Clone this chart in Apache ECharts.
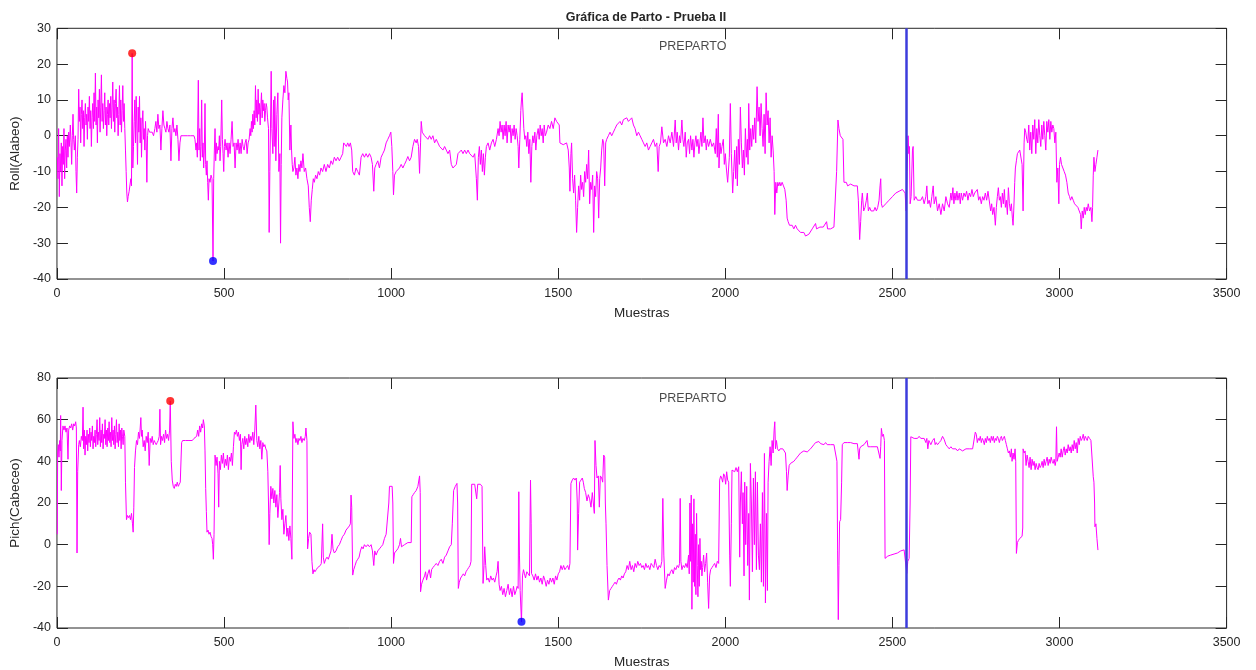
<!DOCTYPE html>
<html>
<head>
<meta charset="utf-8">
<script src="https://cdn.jsdelivr.net/npm/echarts@6/dist/echarts.min.js"></script>
<style>
html,body{margin:0;padding:0;background:#fff;}
#chart{width:1256px;height:670px;}
</style>
</head>
<body>
<div id="chart"></div>
<script>
// Axis ranges and tick steps
const sampleAxis = { min: 0, max: 3500, interval: 500 };
const rollAxis = { min: -40, max: 30, interval: 10 };
const pitchAxis = { min: -40, max: 80, interval: 20 };

// Sample where the pre-partum phase marker is drawn
const eventSample = 2542;
const noteText = 'PREPARTO';
const rollNote = [1800, 25];
const pitchNote = [1800, 70];

// Roll (Alabeo) readings: [sample, degrees]
const roll = [
[1,-6],[3,-12],[5,2],[7,-17],[9,-5],[11,-10],[13,-2],[15,-14],[17,-3],[19,-8],[21,2],[23,-12],[25,-4],[27,-1],[29,-9],[31,0],[33,-6],[35,1],[37,-3],[40,3],[42,-2],[44,-8],[46,0],[48,6],[50,-1],[52,-4],[55,0],[57,-10],[59,-16],[61,-6],[63,-1],
[65,13],[67,4],[69,8],[71,-2],[73,6],[75,10],[77,2],[79,7],[81,-3],[83,5],[85,9],[87,3],[89,6],[91,-1],[93,8],[95,4],[97,11],[99,2],[101,7],[103,-3],[105,5],[107,9],[109,2],[111,12],[113,4],[115,17.5],[117,3],[119,8],[121,-2],[123,10],[125,5],[127,13],[129,1],[131,8],[133,17],[135,4],[137,9],[139,2],[141,7],[143,12],[145,3],[147,8],[149,0],[151,6],[153,10],[155,3],[157,9],[159,5],[161,11],[163,2],[165,8],[167,15],[169,4],[171,10],[173,1],[175,9],[177,13],[179,5],[181,8],[183,0],[185,6],[187,14],[189,3],[191,10],[193,1],[195,7],[197,14],[199,4],[201,9],
[203,2],[205,-4],[207,-10],[209,-16],[211,-18.5],[213,-17],[216,-15.5],[219,-15],[221,-12],[223,-14],[225,23],[227,-9],[229,-3],[231,4],[233,10],[235,-2],[237,11],[239,3],[241,-8],[243,8],[245,1],[247,11],[249,-2],[251,5],[253,-6],[255,3],[257,7],[259,-1],[261,2],[263,-4],[265,4],[267,-2],[269,-13],[271,0],[273,2],[277,1],[281,0.5],[285,1],[289,0],[293,2],
[296,4],[299,1],[302,6],[305,2],[308,3],[311,-4],[314,2],[317,7],[320,3],[323,2],[326,1],[329,4],[332,2],[335,1],[338,3],[341,-7],[344,2],[347,5],[350,1],[353,2],[356,0],[359,3],[362,-1],[365,-7],[368,-2],[371,0],[375,0.5],[380,0],[385,0.5],[390,0],[395,0.3],[400,0],[405,0.5],[410,0],[413,-1],[416,-4],[418,-2],[420,-6],[423,15.5],[425,-4],[427,2],[429,-7],[431,-3],[433,10],[435,-6],[437,-2],[439,-9],[441,-4],[443,9],[445,-8],[447,-11],[449,-7],[451,-13],[453,-18],[455,-12],[458,-13],[461,-11],[464,-12],[467,-35],[469,-12],[471,-4],[473,2],[475,-7],[477,-2],[479,-5],[482,-3],[484,-4],[486,0],[488,-7],[490,-3],[493,10],[495,-1],[497,-5],[499,-10],[501,-3],[503,-1],[506,-4],[509,-2],[512,-6],[515,-2],[518,-5],[521,-1],[524,4],[527,-3],[530,-2],[533,-9],[536,-2],[539,-4],[542,-1],[545,-5],[548,-2],[551,-5],[554,-1],[557,-3],[560,-4],[563,-2],[566,-1],[569,-5],[572,-2],[575,-1],[578,2],[580,0],[582,4],[584,1],[586,6],[588,2],[590,7],[592,3],[594,14],[596,5],[598,10],[600,4],[602,13],[604,6],[606,9],[608,3],[610,8],[612,12],[614,5],[616,10],[618,7],[620,9],[622,4],[624,7],[626,9],[628,8],[630,5],[633,2],[635,-27],[637,-10],[639,3],[641,18],[643,2],[646,-5],[648,10],[650,-3],[652,11],[655,-7],[658,6],[661,12],[664,-10],[667,-5],[669,-30],[671,-8],[673,5],[676,10],[679,14],[682,12],[685,18],[688,16],[690,15],[692,10],[694,12],[697,-4],[700,3],[702,-4],[704,-8],[706,-10],[709,-9],[712,-6],[715,-11],[718,-9],[721,-12],[724,-8],[727,-10],[730,-7],[733,-9],[736,-5],[740,-10],[744,-9],[748,-12],[752,-14],[755,-20],[758,-24],[761,-18],[764,-15],[767,-12],[770,-13],[774,-11],[778,-12],[782,-10],[786,-11],[790,-9],[795,-10],[800,-8],[805,-10],[810,-8],[815,-9],[820,-7],[825,-8],[830,-6],[835,-7],[840,-6],[845,-7],[850,-6],[855,-5],[858,-2],[862,-2],[866,-3],[870,-2],[874,-3],[878,-2],[882,-4],
[885,-10],[890,-11],[895,-9],[900,-10],[905,-11],[910,-6],[915,-5],[920,-6],[925,-5],[930,-6],[935,-5],[940,-6],[944,-8],[948,-15.5],[951,-9],[955,-8],[960,-7],[965,-9],[970,-6],[975,-5],[980,-4],[985,-2],[990,-1],[995,0],[999,1],[1002,-3],[1005,-10],[1007,-16.5],[1010,-11],[1015,-10],[1020,-10],[1025,-9],[1030,-8],[1035,-9],[1040,-8],[1045,-7],[1050,-5.8],[1055,-7],[1060,-6],[1065,-3],[1070,-1],[1075,-2],[1078,-1],[1082,-3],[1085,-10.5],[1088,-2],[1090,4],[1093,1],[1097,1],[1100,0],[1105,0.5],[1110,-1],[1115,0],[1120,-1],[1125,0],[1130,-2],[1135,-1],[1140,-2],[1145,-3],[1150,-3],[1155,-4],[1160,-3],[1165,-4],[1170,-5],[1175,-4],[1180,-8],[1185,-9],[1190,-9],[1195,-8],[1200,-5],[1205,-5],[1210,-4],[1215,-5],[1220,-4],[1225,-5],[1230,-4],[1235,-5],[1240,-5],[1245,-6],[1250,-5],[1255,-12],[1258,-18],[1261,-6],[1264,-3],[1267,-8],[1270,-4],[1273,-10],[1276,-5],[1279,-11],[1282,-6],[1285,-3],[1290,-2],[1295,-4],[1300,-2],[1305,-1],[1310,-3],[1315,-1],[1320,2],[1323,0],[1326,4],[1329,1],[1332,3],[1335,-1],[1338,3],[1341,0],[1344,4],[1347,-2],[1350,3],[1353,1],[1356,3],[1359,-2],[1362,2],[1365,0],[1368,3],[1371,-1],[1374,2],[1377,0],[1380,-3],[1382,-9],[1385,-1],[1388,7],[1390,10],[1392,12],[1394,8],[1397,2],[1400,-1],[1403,0],[1406,-3],[1409,1],[1412,-5],[1415,-1],[1418,-13],[1421,-3],[1424,0],[1427,-2],[1430,1],[1433,-4],[1436,0],[1440,2],[1443,-1],[1446,3],[1449,0],[1452,2],[1455,-2],[1458,3],[1461,0],[1465,1],[1470,3],[1475,2],[1480,4],[1485,2],[1490,5],[1495,4],[1500,4],[1503,3],[1505,-2],[1510,-2],[1515,-2.5],[1520,-2],[1525,-2],[1530,-4],[1533,-9],[1535,-15.5],[1538,-5],[1540,-2],[1543,-12],[1546,-16],[1549,-11],[1552,-18],[1555,-27],[1558,-20],[1561,-14],[1564,-18],[1567,-11],[1570,-15],[1573,-13],[1576,-17],[1579,-10],[1582,-13],[1585,-8],[1588,-12],[1591,-4],[1594,-19],[1597,-13],[1600,-15],[1603,-11],[1606,-27],[1609,-14],[1612,-17],[1615,-10],[1618,-12],[1621,-23],[1624,-12],[1627,-9],[1630,-4],[1633,-1],[1636,-2],[1639,-14],[1642,-2],[1645,-1],[1650,0],[1655,1],[1660,0],[1665,1],[1670,2],[1675,3],[1680,3],[1685,4],[1690,3],[1695,4.5],[1700,4],[1705,5],[1710,4],[1715,4],[1720,5],[1725,3],[1730,2],[1735,0],[1740,1],[1745,0],[1750,-1],[1755,-2],[1760,-3],[1765,-2],[1770,-4],[1775,-3],[1780,-2],[1785,-1],[1790,-3],[1795,-2],[1799,-10],[1802,-3],[1806,-2],
[1810,2.5],[1815,-2],[1820,-1],[1825,-3],[1830,0],[1835,-2],[1840,1],[1845,-3],[1850,4.4],[1853,-2],[1856,1],[1860,-4],[1863,0],[1866,-2],[1870,4.4],[1873,-1],[1876,-3],[1880,1],[1883,-6],[1886,-2],[1890,-1],[1893,-5],[1896,0],[1900,-4],[1903,-1],[1906,-6],[1909,-2],[1912,0],[1915,-3],[1918,-1],[1921,-5],[1924,-2],[1927,1],[1930,-3],[1933,5],[1936,-2],[1940,0],[1943,-4],[1946,-1],[1950,-3],[1955,-1],[1960,-3],[1965,-2],[1970,-5],[1973,2],[1976,-6],[1979,6],[1981,-9],[1984,-2],[1987,-5],[1990,-3],[1994,-1],[1997,-8],[2000,-5],[2003,-9],[2007,-13],[2012,-6],[2015,9],[2018,-5],[2022,-16],[2025,-10],[2028,-4],[2031,-12],[2034,-3],[2036,-14],[2039,-1],[2042,-8],[2045,8],[2048,-2],[2051,-9],[2054,-4],[2057,-11],[2060,2],[2063,-6],[2066,-1],[2068,-8],[2070,9],[2073,-4],[2076,2],[2079,-3],[2082,3],[2085,-1],[2088,5],[2091,-2],[2095,13.7],[2098,4],[2101,8],[2104,0],[2107,9],[2110,2],[2113,-3],[2116,6],[2119,-5],[2122,12],[2125,3],[2128,7],[2131,-2],[2134,5],[2137,-6],[2140,0],[2143,-4],[2146,-10],[2148,-22],[2151,-13],[2154,-16],[2157,-13],[2160,-14],[2163,-13],[2166,-14],[2170,-13],[2174,-14],[2178,-15],[2182,-18],[2185,-23],[2188,-24],[2192,-25],[2196,-25.5],[2200,-25],[2205,-26],[2210,-25],[2215,-26],[2220,-26],[2225,-27],[2230,-27.5],[2235,-27],[2240,-28],[2245,-28.2],[2250,-27.5],[2255,-27],[2260,-26],[2265,-26.5],[2270,-24.5],[2273,-26],[2278,-26],[2283,-25.5],[2288,-26],[2293,-25.5],[2298,-26],[2303,-24],[2306,-26],[2310,-25.5],[2315,-26],[2320,-26],[2325,-25.5],[2330,-26],[2333,-10],[2337,4.4],[2340,2],[2344,0],[2348,0.5],[2352,-1],[2355,-13],[2358,-13.5],[2362,-13],[2366,-14],[2370,-14],[2375,-13.5],[2380,-14],[2385,-14],[2390,-13.5],[2395,-14],[2398,-18],[2402,-29],[2405,-24],[2408,-18],[2410,-16],[2414,-21],[2418,-20],[2422,-18],[2425,-16],[2428,-21],[2432,-20],[2436,-21],[2440,-20.5],[2444,-21],[2448,-20],[2452,-21],[2456,-20],[2460,-18],[2463,-14],[2465,-12],[2467,-19],[2470,-20],[2475,-20],[2480,-19],[2485,-19],[2490,-18],[2495,-18],[2500,-17],[2505,-17],[2510,-16],[2515,-16],[2520,-15.5],[2525,-15],[2530,-15],[2535,-15],[2538,-16],[2541,-21],[2544,-10],[2547,0],[2549,-5],[2551,-3],[2553,-19],[2556,-17],[2560,-4],[2562,-3],[2565,-18],
[2570,-17],[2575,-18],[2580,-17.5],[2585,-18],[2590,-17],[2595,-19],[2600,-17],[2603,-14],[2606,-19],[2610,-18],[2614,-20],[2618,-17],[2622,-14],[2625,-19],[2630,-17],[2635,-21],[2640,-19],[2645,-22],[2650,-19],[2655,-21],[2660,-17],[2665,-19],[2670,-20],[2675,-16],[2678,-18],[2681,-14.5],[2684,-19],[2687,-16],[2690,-18],[2693,-15.5],[2696,-18],[2700,-16],[2703,-19],[2706,-16],[2710,-18],[2714,-16],[2718,-17],[2722,-15.5],[2726,-18],[2730,-16],[2734,-17],[2738,-15],[2742,-17],[2746,-16],[2750,-16.5],[2754,-15],[2758,-18],[2762,-17],[2766,-19],[2770,-17],[2774,-18],[2778,-16],[2782,-18],[2786,-15.5],[2790,-16],[2794,-21],[2797,-19],[2800,-22],[2804,-20],[2808,-25],[2811,-20],[2814,-17],[2817,-14.5],[2820,-18],[2823,-17],[2826,-20],[2829,-16],[2832,-19],[2835,-15],[2838,-20],[2841,-18],[2844,-22],[2847,-14.5],[2850,-19],[2853,-21],[2856,-19],[2859,-23],[2861,-25],[2863,-21],[2866,-13],[2868,-9],[2871,-7],[2874,-5],[2877,-5],[2881,-4],[2885,-4],[2888,-8],[2891,-21],[2894,-2],[2896,2],[2899,1],[2902,-1],[2905,-2],[2908,3],[2911,-4],[2914,1],[2917,-5],[2920,3],[2923,-1],[2926,4.5],[2929,-5],[2932,2],[2935,-2],[2938,4.5],[2941,0],[2944,-3],[2947,3],[2950,-1],[2953,4],[2956,0],[2959,-4],[2962,4],[2965,1],[2968,4.5],[2971,-1],[2974,4],[2977,1],[2980,3],[2983,2],[2986,-2],[2989,1],[2992,-13],[2995,-9],[2998,-19],[3000,-8],[3003,-6],[3006,-8],[3010,-9],[3014,-10],[3018,-11],[3022,-13],[3026,-16],[3030,-17],[3033,-18],[3037,-17],[3041,-18],[3045,-19],[3050,-19.5],[3055,-20],[3060,-20],[3063,-22],[3065,-26],[3068,-21],[3071,-23],[3074,-20],[3077,-22],[3080,-20],[3083,-21],[3086,-19],[3090,-21],[3094,-20],[3097,-24],[3099,-20],[3101,-11],[3103,-6],[3106,-10],[3109,-8],[3112,-6],[3115,-4]
];

// Pitch (Cabeceo) readings: [sample, degrees]
const pitch = [
[1,5],[2,44],[4,48],[6,42],[8,50],[10,45],[11,62],[12,46],[13,26],[15,50],[18,57],[21,55],[24,57],[27,54],[30,56],[33,41],[35,55],[38,57],[41,56],[44,58],[47,55],[50,58],[53,57],[56,59],[58,56],[60,-4],[62,35],[65,48],[67,50],[70,47],[73,52],[76,50],[78,66],[80,46],[82,55],[84,43],[86,52],[88,48],[90,55],[92,45],[94,53],[96,49],[98,56],[100,47],[102,54],[104,50],[106,57],[108,46],[110,52],[112,49],[114,55],[116,47],[118,53],[120,60],[122,48],[124,54],[126,50],[128,61],[130,47],[132,55],[134,49],[136,58],[138,46],[140,53],[142,51],[144,60],[146,48],[148,55],[150,47],[152,56],[154,50],[156,59],[158,49],[160,54],[162,47],[164,61],[166,50],[168,55],[170,48],[172,57],[174,46],[176,53],[178,60],[180,49],[182,54],[184,47],[186,58],[188,50],[190,55],[192,46],[194,56],[196,52],[198,48],[200,55],[203,52],[205,30],[208,12],[211,14],[214,13],[217,14],[220,12],[223,15],[226,10],[228,6],[230,18],[232,37],[235,45],[238,50],[241,48],[244,54],[247,51],[249,56],[251,61],[253,52],[255,55],[258,47],[261,50],[264,45],[267,52],[270,49],[273,54],[276,38],[279,51],[282,49],[285,52],[288,48],[291,50],[294,49],[297,48],[300,49],[303,50],[306,52],[308,65],[310,48],[313,52],[316,50],[319,53],[322,49],[325,55],[328,51],[331,53],[334,50],[337,55],[339,69],[342,40],[345,31],[348,28],[351,27],[354,29],[357,28],[360,30],[363,28],[366,29],[369,30],[373,49],[376,50],[380,50],[385,50],[390,50.5],[395,50],[400,50.5],[405,50],[410,51],[415,51],[418,52],[421,55],[424,52],[427,57],[430,54],[433,58],[436,56],[438,60],[441,57],[443,45],[445,27],[447,16],[449,6],[452,7],[455,5],[458,6],[461,4],[464,3],[466,0],[468,-7],[470,5],[473,43],[476,38],[479,42],[482,34],[484,18],[486,40],[489,36],[492,43],[495,39],[498,44],[501,37],[504,41],[507,38],[510,43],[513,36],[516,42],[519,40],[522,44],[525,38],[528,47],[531,54],[534,53],[537,55],[540,52],[543,54],[546,50],[549,53],[551,36],[553,48],[556,51],[559,46],[562,52],[565,48],[568,51],[571,47],[574,53],[577,49],[580,52],[583,50],[586,54],[589,48],[592,55],[595,67],[598,50],[601,47],[604,52],[607,46],[610,50],[613,41],[616,49],[619,47],[622,48],[625,46],[628,45],[631,35],[633,20],[635,0],[637,15],[640,28],[643,22],[646,27],[649,20],[652,26],[655,18],[658,24],[661,13],[664,20],[666,25],[668,38],[670,22],[673,12],[676,17],[679,5],[682,10],[685,14],[688,4],[691,8],[694,2],[697,9],[700,3],[703,-7],[706,59],[709,51],[712,53],[715,49],[718,51],[721,48],[724,51],[727,50],[730,52],[733,49],[736,51],[740,50],[743,52],[745,56],[748,50],[750,-2],[753,3],[756,6],[760,5],[763,-8],[766,-14],[769,-12],[772,-13],[776,-12],[780,-11],[784,-11],[788,-10],[791,-9],[795,10],[797,-6],[800,-9],[804,-7],[808,-6],[812,-7],[816,-5],[820,-3],[823,5],[826,-2],[830,-4],[835,-3],[840,-1],[845,0],[850,2],[855,4],[860,5],[865,7],[870,8],[875,9],[878,10],[880,23.8],[882,18],[885,-14.6],[888,-12],[892,-10],[896,-8],[900,-7],[904,-6],[908,-3],[912,-1],[916,-2],[920,0],[925,-1],[930,0],[935,-1],[940,0],[944,-3],[948,-10],[951,-3],[955,-5],[960,-3],[965,-2],[970,-1],[975,0],[980,3],[985,5],[990,5],[993,20],[995,28],[998,28],[1003,28],[1005,20],[1007,-9],[1010,-4],[1015,-3],[1020,-2],[1025,0],[1028,3],[1031,-1],[1035,-1],[1040,0],[1045,0],[1050,1],[1055,1],[1060,1],[1062,23],[1066,24],[1070,25],[1075,26],[1080,28],[1085,33],[1087,25],[1088,-22.6],[1091,-19],[1095,-17],[1100,-15],[1103,-13],[1106,-17],[1110,-14],[1114,-12],[1118,-16],[1121,-12],[1125,-11],[1130,-10],[1135,-9],[1140,-10],[1145,-8],[1150,-7],[1155,-9],[1160,-6],[1165,-5],[1170,-3],[1175,-1],[1180,0],[1183,10],[1187,26],[1192,28],[1197,29.4],[1199,20],[1201,-21],[1204,-18],[1208,-16],[1212,-15],[1216,-14],[1220,-15],[1224,-13],[1228,-12],[1232,-11],[1236,-10],[1239,-8],[1241,29],[1245,29.5],[1250,29],[1254,29.5],[1256,22],[1259,29],[1263,29.5],[1267,29],[1272,28],[1275,-18.6],[1278,-10],[1280,-1],[1283,-10],[1286,-17],[1290,-16],[1294,-18],[1298,-15],[1302,-17],[1306,-16],[1310,-18],[1314,-15],[1317,-13],[1320,-8],[1323,-19],[1326,-22],[1330,-20],[1334,-24],[1338,-21],[1342,-25],[1346,-22],[1350,-19],[1354,-24],[1358,-21],[1362,-25],[1366,-20],[1370,-24],[1374,-22],[1377,-20],[1380,-21],[1382,25.4],[1384,-5],[1386,-22],[1390,-37],[1393,-15],[1396,-12],[1399,-14],[1402,-16],[1406,-13],[1410,-14],[1414,-15],[1417,31],[1419,10],[1420,-13.8],[1424,-15],[1428,-17],[1432,-14],[1436,-17],[1440,-15],[1444,-18],[1448,-16],[1452,-19],[1456,-15],[1460,-17],[1464,-20],[1468,-17],[1472,-19],[1476,-16],[1480,-18],[1484,-16],[1488,-19],[1492,-15],[1496,-17],[1500,-14],[1504,-13],[1508,-10],[1512,-12],[1516,-10],[1520,-12],[1524,-11],[1528,-10],[1532,-12],[1535,-9],[1538,29.4],[1542,31],[1546,32],[1550,31],[1554,32],[1557,20],[1558,-2.6],[1561,15],[1564,30],[1568,31],[1572,32],[1575,30],[1578,27],[1582,25],[1586,21],[1590,24],[1594,22],[1598,18],[1602,25],[1605,20],[1608,15],[1610,50],[1613,38],[1616,32],[1620,33],[1623,18],[1626,33],[1630,32],[1633,30],[1636,43],[1639,42],[1641,20],[1643,10],[1646,-10],[1650,-26.6],[1654,-22],[1658,-21],[1662,-20],[1666,-19],[1670,-18],[1674,-19],[1678,-17],[1682,-16],[1686,-17],[1690,-15],[1694,-16],[1698,-14],[1702,-13],[1706,-10],[1710,-12],[1714,-8],[1718,-12],[1722,-10],[1726,-13],[1730,-9],[1734,-11],[1738,-8],[1742,-10],[1746,-9],[1750,-11],[1754,-10],[1758,-12],[1762,-9],[1766,-11],[1770,-10],[1774,-12],[1778,-9],[1782,-10],[1786,-11],[1790,-7],[1794,-10],[1798,-12],[1802,-10],[1806,-11],[1810,-8],[1813,22.2],[1816,-5],[1820,-21],[1824,-17],[1828,-14],[1832,-15],[1836,-13],[1840,-12],[1844,-14],[1848,-11],[1852,-12],[1856,-10],[1860,-11],[1863,-9],[1865,22.2],[1867,-8],[1870,-12],[1874,-10],[1878,-11],[1882,-9],[1886,-11],[1890,-5],[1892,-14],[1894,20],[1896,-8],[1898,23.8],[1900,-31],[1902,10],[1904,-18],[1906,22],[1908,-20],[1910,5],[1912,-24],[1914,15],[1916,-10],[1918,-25],[1920,0],[1922,-20],[1924,3],[1926,-12],[1928,-8],[1930,-15],[1932,-11],[1935,-5],[1938,-13],[1941,-9],[1944,-4],[1947,-18],[1950,-30.6],[1953,-15],[1956,-12],[1960,-11],[1964,-10],[1968,-9],[1972,-11],[1976,-8],[1980,-9],[1983,31],[1986,33],[1989,32],[1992,30],[1995,34],[1998,33],[2001,29],[2004,35],[2007,31],[2010,30],[2013,-5],[2015,-20],[2018,10],[2020,35.8],[2024,36],[2028,35],[2032,37],[2036,35],[2040,37.4],[2043,-6],[2045,20],[2048,35],[2051,10],[2053,25],[2056,-15],[2058,30],[2061,0],[2064,28],[2067,-10],[2070,15],[2072,-26.6],[2075,39],[2078,20],[2081,-13],[2084,32],[2087,0],[2090,35],[2093,-12],[2096,30],[2099,-5],[2102,-12],[2105,10],[2108,-18],[2111,25],[2114,-20],[2117,43.8],[2120,-28],[2123,15],[2126,-22],[2128,30],[2131,40],[2134,47],[2137,38],[2140,50],[2143,44],[2146,55],[2148,59],[2150,46],[2153,50],[2156,46],[2160,45],[2164,46],[2168,45.5],[2172,46],[2176,45],[2180,44],[2183,35],[2185,26],[2188,33],[2191,38],[2195,39],[2200,39.5],[2205,40],[2210,41],[2215,42],[2220,43],[2225,44],[2230,44],[2235,45],[2240,45],[2245,44.5],[2250,45],[2255,46],[2260,45.5],[2265,48],[2270,49],[2275,49],[2280,49.5],[2285,48.5],[2290,49],[2295,48],[2300,49],[2305,48],[2310,48.5],[2315,48],[2320,48],[2325,48],[2330,48],[2334,40],[2336,-2.6],[2338,-36],[2340,-10],[2342,11],[2345,12],[2348,30],[2350,48],[2355,49],[2360,48.5],[2365,49],[2370,49.5],[2375,49],[2380,49],[2385,48.5],[2390,49],[2395,48.5],[2398,49],[2400,41],[2402,46],[2405,47],[2410,47],[2415,48],[2420,47.5],[2424,50],[2427,47],[2430,47],[2435,47],[2440,47],[2445,47],[2450,47],[2455,47],[2460,47],[2463,41.4],[2465,47],[2467,55.8],[2470,52],[2473,53],[2476,50],[2478,-6.6],[2482,-6],[2486,-5.5],[2490,-5.5],[2495,-5],[2500,-5],[2505,-4.5],[2510,-4],[2515,-4],[2520,-3.5],[2525,-3],[2530,-3],[2535,-2.5],[2540,-3],[2543,-13.8],[2546,-8],[2550,-6.6],[2553,20],[2555,51.8],[2560,52],[2565,51],[2570,51.5],[2575,51],[2580,52],[2585,51],[2590,50.5],[2595,51],[2600,49],[2603,51],[2606,46],[2609,50],[2612,49],[2615,48],[2620,50],[2625,51],[2628,48],[2631,49],[2635,48],[2640,49],[2645,50],[2650,52],[2655,50.5],[2660,48],[2665,47],[2670,46],[2675,47],[2680,46],[2685,46.5],[2690,46],[2695,45],[2700,46],[2705,46],[2710,45],[2715,44.5],[2720,46],[2725,46],[2730,46],[2735,46],[2740,46],[2745,46],[2748,54],[2751,53],[2754,49],[2757,51],[2760,50],[2763,52],[2766,49],[2769,51],[2772,50],[2775,48],[2778,51],[2781,49],[2784,52],[2787,50],[2790,51],[2793,49],[2796,52],[2799,50],[2802,52],[2805,49],[2808,51],[2811,50],[2814,52],[2817,51],[2820,49],[2823,51],[2826,52],[2829,50],[2832,51],[2835,52],[2838,50],[2841,48],[2844,46],[2847,44],[2850,45],[2853,42],[2856,46],[2858,40],[2861,44],[2864,41],[2867,46],[2869,40],[2871,-4.2],[2874,1],[2877,2],[2881,3],[2885,3],[2888,4],[2890,8],[2891,46],[2894,44],[2897,45],[2900,38],[2903,43],[2906,40],[2909,37],[2912,42],[2915,36],[2918,41],[2921,38],[2924,40],[2927,36],[2930,39],[2933,37],[2936,36],[2939,39],[2942,37],[2945,38],[2948,40],[2951,37],[2954,41],[2957,38],[2960,40],[2963,42],[2966,38],[2969,41],[2972,39],[2975,42],[2978,40],[2981,39],[2984,41],[2987,38],[2989,40],[2991,56.6],[2993,40],[2996,42],[2999,44],[3002,42],[3005,46],[3008,42],[3011,45],[3014,47],[3017,43],[3020,46],[3023,44],[3026,48],[3029,45],[3032,47],[3035,44],[3038,48],[3041,45],[3044,50],[3047,46],[3050,49],[3053,44],[3056,51],[3059,48],[3062,52],[3065,50],[3068,51],[3071,53],[3074,50],[3077,52],[3080,51],[3083,50],[3086,52],[3090,51],[3094,50],[3098,50],[3101,32.6],[3103,30],[3105,20],[3106,8.6],[3109,10],[3112,3],[3115,-2.6]
];

const INK = '#262626';
const FONT = '"Liberation Sans", Arial, Helvetica, sans-serif';
const LINE = '#ff00ff';

function highest(arr) { return arr.reduce((b, p) => (p[1] > b[1] ? p : b)); }
function lowest(arr) { return arr.reduce((b, p) => (p[1] < b[1] ? p : b)); }
const plain = v => String(v);

function xAxisFor(grid, pos, withLabels) {
  return {
    type: 'value', gridIndex: grid, position: pos,
    min: sampleAxis.min, max: sampleAxis.max, interval: sampleAxis.interval,
    axisLine: { show: false, onZero: false },
    axisTick: { show: true, inside: true, length: 11, lineStyle: { color: INK, width: 1 } },
    axisLabel: { show: withLabels, color: INK, fontSize: 12.5, fontFamily: FONT, margin: 8, formatter: plain },
    splitLine: { show: false },
    name: withLabels ? 'Muestras' : '',
    nameLocation: 'middle', nameGap: 27,
    nameTextStyle: { color: INK, fontSize: 13.5, fontFamily: FONT }
  };
}
function yAxisFor(grid, pos, range, withLabels, title) {
  return {
    type: 'value', gridIndex: grid, position: pos,
    min: range.min, max: range.max, interval: range.interval,
    axisLine: { show: false, onZero: false },
    axisTick: { show: true, inside: true, length: 11, lineStyle: { color: INK, width: 1 } },
    axisLabel: { show: withLabels, color: INK, fontSize: 12.5, fontFamily: FONT, margin: 6, formatter: plain },
    splitLine: { show: false },
    name: withLabels ? title : '',
    nameLocation: 'middle', nameGap: 23, nameRotate: 90,
    nameTextStyle: { color: INK, fontSize: 13.5, fontFamily: FONT }
  };
}

function signal(data, xi, yi, note) {
  return [
    {
      type: 'line', data: data, xAxisIndex: xi, yAxisIndex: yi,
      showSymbol: false, symbol: 'none', sampling: false, silent: true,
      lineStyle: { color: LINE, width: 1 },
      markLine: {
        silent: true, symbol: 'none', label: { show: false },
        lineStyle: { color: '#3c3cdc', width: 2.5, type: 'solid' },
        data: [{ xAxis: eventSample }]
      },
      z: 2
    },
    {
      type: 'scatter', data: [highest(data)], xAxisIndex: xi, yAxisIndex: yi,
      symbol: 'circle', symbolSize: 8, itemStyle: { color: '#ff0000' }, silent: true, z: 4
    },
    {
      type: 'scatter', data: [lowest(data)], xAxisIndex: xi, yAxisIndex: yi,
      symbol: 'circle', symbolSize: 8, itemStyle: { color: '#0000ff' }, silent: true, z: 4
    },
    {
      type: 'scatter', data: [note], xAxisIndex: xi, yAxisIndex: yi,
      symbolSize: 1, itemStyle: { color: 'rgba(0,0,0,0)' }, silent: true,
      label: { show: true, formatter: noteText, position: 'right', distance: 0,
               color: '#1a1a1a', fontSize: 12.5, fontFamily: FONT },
      z: 5
    }
  ];
}

const chart = echarts.init(document.getElementById('chart'), null, { renderer: 'canvas' });
chart.setOption({
  animation: false,
  backgroundColor: '#ffffff',
  title: {
    text: 'Gráfica de Parto - Prueba II',
    left: 641, top: 6, textAlign: 'center',
    textStyle: { color: INK, fontSize: 12.5, fontWeight: 'bold', fontFamily: FONT }
  },
  grid: [
    { left: 55.7, right: 29.4, top: 28.3, height: 250.7, show: true, borderColor: INK, borderWidth: 1, containLabel: false },
    { left: 55.7, right: 29.4, top: 378, height: 250, show: true, borderColor: INK, borderWidth: 1, containLabel: false }
  ],
  xAxis: [
    xAxisFor(0, 'bottom', true), xAxisFor(0, 'top', false),
    xAxisFor(1, 'bottom', true), xAxisFor(1, 'top', false)
  ],
  yAxis: [
    yAxisFor(0, 'left', rollAxis, true, 'Roll(Alabeo)'), yAxisFor(0, 'right', rollAxis, false, ''),
    yAxisFor(1, 'left', pitchAxis, true, 'Pich(Cabeceo)'), yAxisFor(1, 'right', pitchAxis, false, '')
  ],
  series: [].concat(signal(roll, 0, 0, rollNote), signal(pitch, 2, 2, pitchNote))
});
</script>
</body>
</html>
